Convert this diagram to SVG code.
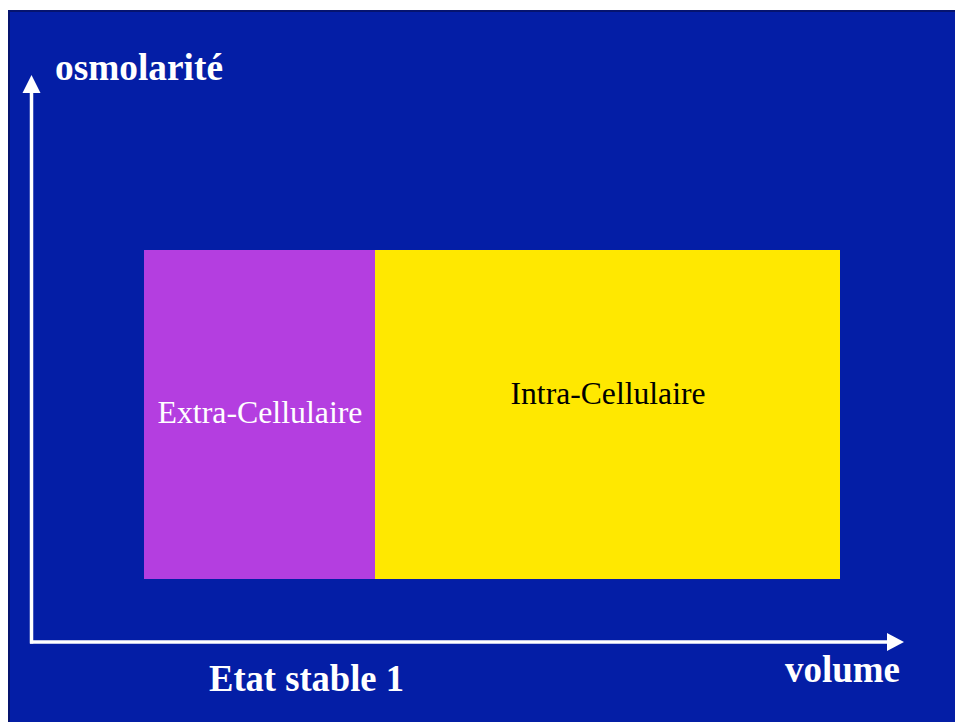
<svg xmlns="http://www.w3.org/2000/svg" width="955" height="722" viewBox="0 0 955 722">
<style>
.lbl{font-family:"Liberation Serif","Times New Roman",serif;font-size:32px}
.ax{font-family:"Liberation Serif","Times New Roman",serif;font-size:38px;font-weight:bold;fill:#ffffff}
.axis{stroke:#ffffff;stroke-width:3.5;fill:none}
.head{fill:#ffffff}
</style>
<rect x="0" y="0" width="955" height="722" fill="#ffffff"/>
<rect x="8" y="10" width="947" height="712" fill="#041ea6"/>
<path d="M8,11 H955 M9,10 V722" stroke="#06146f" stroke-width="2" fill="none"/>
<g id="extra">
<rect x="144" y="250" width="231" height="329" fill="#b43ee0"/>
<text class="lbl" x="260" y="423" text-anchor="middle" fill="#ffffff" textLength="205" lengthAdjust="spacingAndGlyphs">Extra-Cellulaire</text>
</g>
<g id="intra">
<rect x="375" y="250" width="465" height="329" fill="#ffe800"/>
<text class="lbl" x="608" y="404" text-anchor="middle" fill="#000000" textLength="195" lengthAdjust="spacingAndGlyphs">Intra-Cellulaire</text>
</g>
<g id="connectors">
<path class="axis" d="M31.5,643.5 V90"/>
<polygon class="head" points="31.5,75 40.5,93 22.5,93"/>
<path class="axis" d="M30,642 H890"/>
<polygon class="head" points="904,642 887,633 887,651"/>
</g>
<g id="labels">
<text class="ax" x="55" y="80" textLength="168" lengthAdjust="spacingAndGlyphs">osmolarité</text>
<text class="ax" x="209" y="691" textLength="195" lengthAdjust="spacingAndGlyphs">Etat stable 1</text>
<text class="ax" x="785" y="682" textLength="115" lengthAdjust="spacingAndGlyphs">volume</text>
</g>
</svg>
